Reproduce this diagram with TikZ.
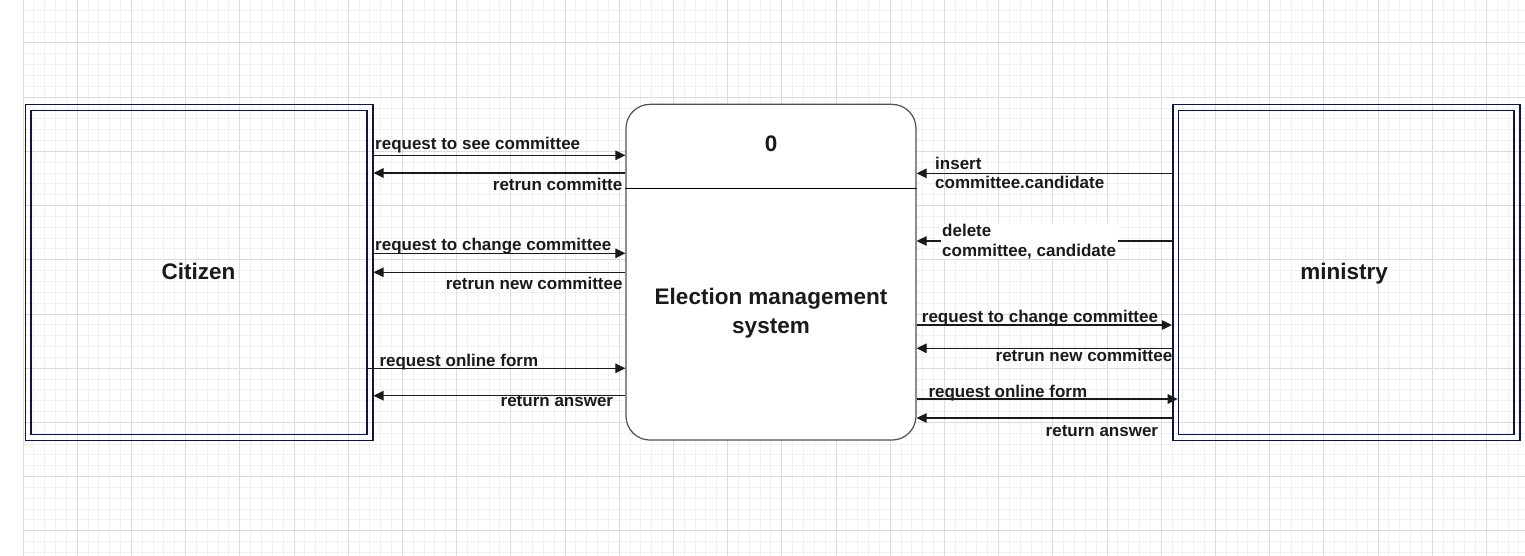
\documentclass[tikz,border=0pt]{standalone}
\usepackage{fontspec}
\setmainfont{Liberation Sans}
\usetikzlibrary{arrows.meta}
\definecolor{entblue}{RGB}{16,20,64}
\definecolor{procgray}{RGB}{80,80,80}
\definecolor{gridminor}{RGB}{241,241,241}
\definecolor{gridmajor}{RGB}{220,220,220}
\definecolor{inkblack}{RGB}{26,26,26}

\tikzset{
    entity/.style={draw=entblue, line width=1.6pt, inner sep=0pt},
    process/.style={draw=procgray, line width=1.2pt, fill=white, rounded corners=24pt, inner sep=0pt},
    flow/.style={draw=inkblack, line width=1.1pt, -{Triangle[length=10pt,width=9.5pt]}},
    lbl/.style={inner sep=0pt, font=\fontsize{17}{19.5}\selectfont\bfseries, text=inkblack},
    title/.style={inner sep=0pt, font=\fontsize{22.5}{29}\selectfont\bfseries, text=inkblack},
}

\begin{document}
\begin{tikzpicture}[x=1pt, y=-1pt]

\useasboundingbox (0,0) rectangle (1525,556);
\fill[white] (0,0) rectangle (1525,556);

% Background grid.
\foreach \i in {0,...,138} \draw[gridminor, line width=1pt] ({23+\i*10.84},0) -- ({23+\i*10.84},556);
\foreach \i in {0,...,51} \draw[gridminor, line width=1pt] (23,{-0.36+\i*10.84}) -- (1525,{-0.36+\i*10.84});
\foreach \i in {0,...,27} \draw[gridmajor, line width=1pt] ({23+\i*54.2},0) -- ({23+\i*54.2},556);
\foreach \i in {0,...,9} \draw[gridmajor, line width=1pt] (23,{43+\i*54.2}) -- (1525,{43+\i*54.2});

% Citizen
\begin{scope}
    % Defining nodes.
    \node[entity, minimum width=347.4, minimum height=335.6] (citizen) at (199,272.5) {};
    \node[entity, minimum width=335.8, minimum height=324] (citizenin) at (citizen.center) {};
    \node[title, anchor=base] (citizentxt) at (198.5,279) {Citizen};
\end{scope}

% ministry
\begin{scope}
    % Defining nodes.
    \node[entity, minimum width=347, minimum height=335.6] (ministry) at (1346.2,272.5) {};
    \node[entity, minimum width=335.4, minimum height=324] (ministryin) at (ministry.center) {};
    \node[title, anchor=base] (ministrytxt) at (1344.2,279) {ministry};
\end{scope}

% Election management system
\begin{scope}
    % Defining nodes.
    \node[process, minimum width=290, minimum height=335.7] (proc) at (771,272.2) {};
    \node[title, anchor=base] (procid) at (771,151.7) {0};
    \node[title, align=center] (procname) at (771,313) {Election management\\system};
    \draw[black, line width=1pt] (proc.west |- 0,188.3) -- (proc.east |- 0,188.3);
\end{scope}

% Flows between Citizen and the system.
\draw[flow] (citizen.east |- 0,155.3) -- (proc.west |- 0,155.3);
\draw[flow] (proc.west |- 0,173) -- (citizen.east |- 0,173);
\draw[flow] (citizen.east |- 0,253.3) -- (proc.west |- 0,253.3);
\draw[flow] (proc.west |- 0,272.3) -- (citizen.east |- 0,272.3);
\draw[flow] (citizenin.east |- 0,368.3) -- (proc.west |- 0,368.3);
\draw[flow] (proc.west |- 0,395.7) -- (citizen.east |- 0,395.7);

% Flows between ministry and the system.
\draw[flow] (ministry.west |- 0,173.3) -- (proc.east |- 0,173.3);
\draw[flow] (ministry.west |- 0,241) -- (proc.east |- 0,241);
\draw[flow] (proc.east |- 0,325) -- (ministry.west |- 0,325);
\draw[flow] (ministry.west |- 0,348.3) -- (proc.east |- 0,348.3);
\draw[flow] (proc.east |- 0,399) -- (ministryin.west |- 0,399);
\draw[flow] (ministry.west |- 0,418) -- (proc.east |- 0,418);

% Flow labels.
\node[lbl, anchor=base west] (seelbl) at (375,149.3) {request to see committee};
\node[lbl, anchor=base east] (retlbl) at (622.5,190) {retrun committe};
\node[lbl, anchor=base west] (chglbl) at (375,250.7) {request to change committee};
\node[lbl, anchor=base east] (newlbl) at (622.7,289.3) {retrun new committee};
\node[lbl, anchor=base west] (formlbl) at (379.3,366) {request online form};
\node[lbl, anchor=base east] (anslbl) at (613.3,406) {return answer};
\node[lbl, anchor=west, align=left] (inslbl) at (935,172.8) {insert\\committee.candidate};
\node[lbl, anchor=west, align=left, fill=white, inner xsep=1.5pt] (dellbl) at (940.5,241.5) {delete\\committee, candidate};
\node[lbl, anchor=base west] (mchglbl) at (921.7,322.7) {request to change committee};
\node[lbl, anchor=base east] (mnewlbl) at (1172.5,361.7) {retrun new committee};
\node[lbl, anchor=base west] (mformlbl) at (928.3,397.3) {request online form};
\node[lbl, anchor=base east] (manslbl) at (1158.3,436) {return answer};

\end{tikzpicture}
\end{document}
